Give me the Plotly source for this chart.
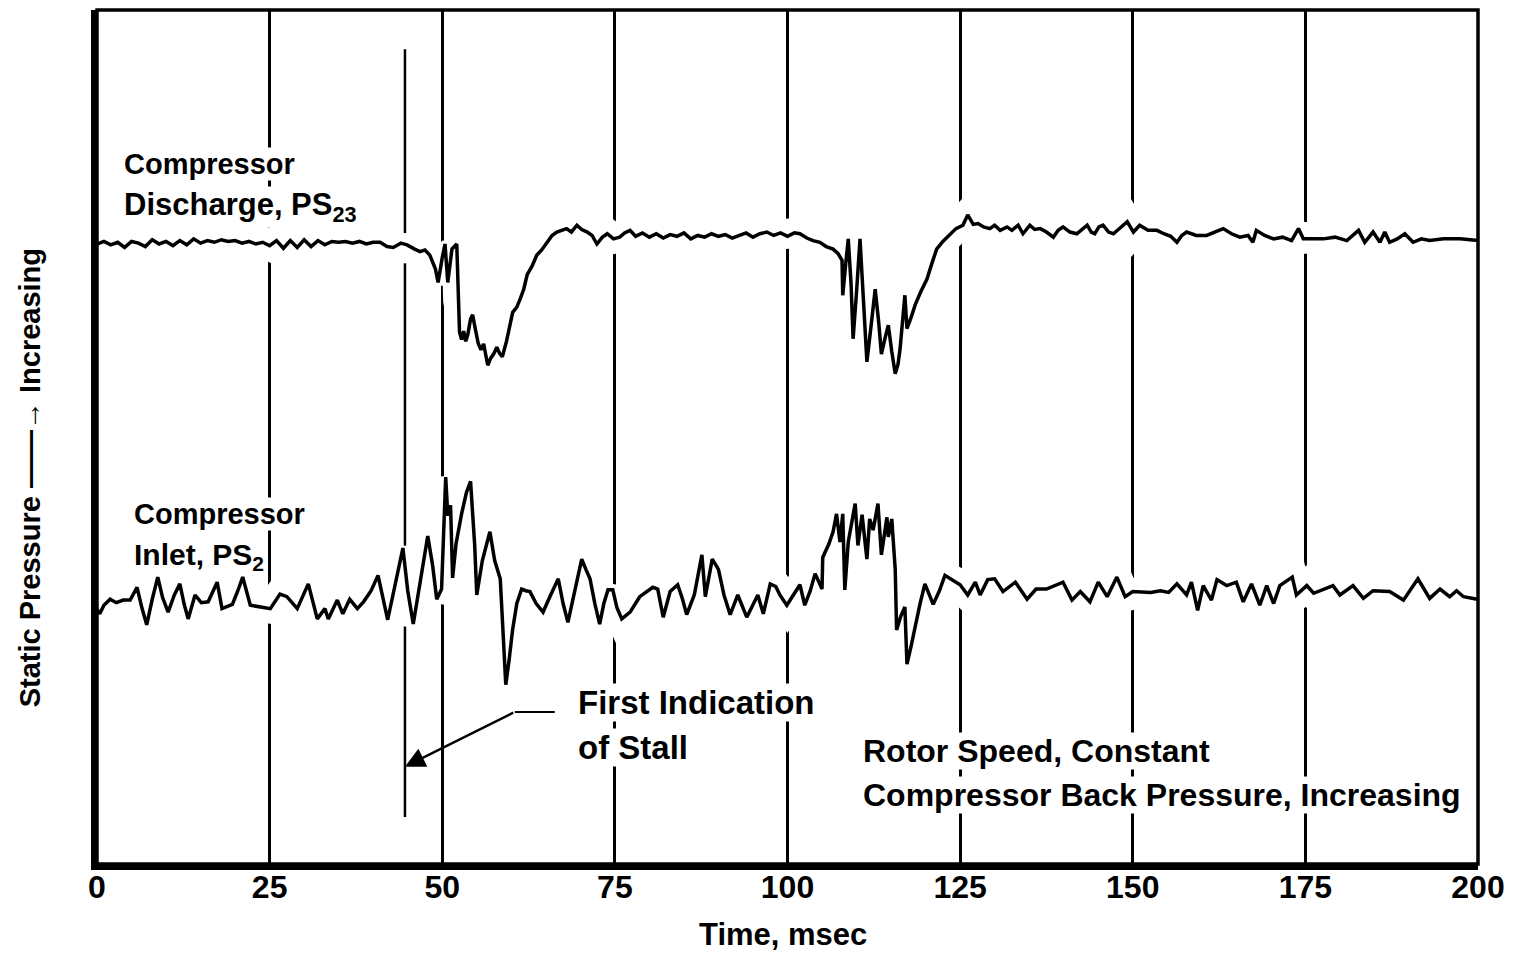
import plotly.graph_objects as go

# Time axis (msec) and relative static pressure (arbitrary units, 0-100 = plot height)
discharge_t = [0, 1, 2, 3, 4, 5, 6, 7, 8, 9, 10, 11, 12, 13, 14, 15, 16, 17, 18, 19, 20,
               21, 22, 23, 24, 25, 26, 27, 28, 29, 30, 31, 32, 33, 34, 35, 36, 37, 38, 39, 40,
               41.0, 42.0, 42.9, 44.0, 44.9, 46.0, 46.8, 47.5, 48.2, 49.0, 49.4, 50.0, 50.4, 50.8,
               51.4, 52.1, 52.3, 52.5, 52.8, 53.1, 53.4, 53.7, 54.1, 54.4, 54.8, 55.2, 55.6, 56.0,
               56.3, 56.6, 57.0, 57.5, 57.9, 58.3, 58.7, 59.3, 60.2, 60.8, 61.3, 61.8, 62.3, 63.0,
               63.7, 64.4, 65.2, 65.9, 66.6, 67.3, 68.0, 68.7, 69.5, 70.2, 71.0, 71.7, 72.4, 73.2,
               73.9, 74.8, 75.7, 76.4, 77.2, 78, 79, 80, 81, 82, 83, 84, 85, 86, 87, 88, 89, 90,
               91, 92, 93, 94, 95, 96, 97, 98, 99, 100, 101, 101.8, 102.8, 103.7, 104.7, 105.6,
               106.6, 107.3, 107.9, 108.0, 108.4, 108.8, 109.2, 109.5, 110.0, 110.5, 111.0, 111.5,
               112.1, 112.7, 113.2, 113.6, 114.1, 114.6, 115.1, 115.6, 116.0, 116.3, 117.0, 117.3,
               117.9, 118.5, 119.3, 120.2, 120.9, 121.6, 122.5, 123.5, 124.4, 125.4, 126.1, 126.9,
               127.6, 128.4, 129.3, 130.0, 130.8, 131.8, 132.5, 133.4, 134.1, 135.1, 135.8, 136.6,
               137.5, 138.5, 139.2, 139.9, 140.9, 141.9, 142.6, 143.4, 144.0, 144.5, 145.1, 145.7,
               146.5, 147.2, 148.2, 149.2, 150.1, 151.0, 152.2, 153.5, 154.5, 155.5, 156.4, 157.1,
               157.8, 159.2, 160.7, 161.9, 163.1, 164.3, 165.5, 166.7, 167.4, 167.9, 169.1, 170.4,
               171.7, 173.0, 174.0, 174.7, 176.1, 177.6, 179.3, 181.0, 182.7, 183.6, 184.8, 185.8,
               186.5, 187.2, 188.3, 189.4, 190.6, 191.8, 193.0, 195.0, 197.4, 200.0]
discharge_p = [72.6, 72.9, 72.5, 72.8, 72.2, 72.9, 72.7, 72.3, 73.1, 72.6, 72.9, 72.4, 73.0, 72.5,
               73.2, 72.7, 73.0, 72.8, 73.1, 72.9, 73.0, 72.7, 72.9, 72.6, 72.8, 72.4, 73.0, 72.1,
               73.0, 72.2, 73.1, 72.3, 73.0, 72.5, 72.9, 72.8, 72.9, 72.7, 72.9, 72.6, 72.8,
               72.8, 72.3, 72.2, 72.7, 72.5, 72.0, 71.7, 71.9, 71.3, 69.7, 68.1, 71.0, 72.6, 68.1,
               72.0, 72.6, 66.0, 62.3, 61.4, 62.4, 61.2, 62.0, 63.8, 64.3, 62.6, 61.0, 60.2, 60.9,
               59.6, 58.4, 59.2, 59.8, 60.5, 59.8, 59.4, 61.2, 64.6, 65.2, 66.2, 67.3, 69.0, 70.0,
               71.3, 71.9, 72.8, 73.6, 74.0, 74.2, 74.4, 74.0, 74.8, 74.3, 74.0, 73.6, 72.6, 73.4,
               73.8, 73.2, 73.4, 73.9, 74.2, 73.5, 73.9, 73.4, 73.8, 73.3, 73.7, 73.5, 73.9, 73.2,
               73.6, 73.4, 73.8, 73.5, 73.7, 73.3, 73.6, 73.9, 73.4, 73.8, 74.0, 73.6, 73.9, 73.5,
               73.9, 73.8, 73.3, 73.0, 72.8, 72.3, 72.0, 71.5, 70.7, 66.6, 70.0, 73.2, 68.0, 61.5,
               67.0, 73.2, 66.0, 58.8, 63.0, 67.3, 63.5, 59.7, 61.5, 63.1, 60.0, 57.4, 58.5, 60.3,
               66.6, 62.7, 64.0, 65.5, 67.0, 68.5, 70.3, 72.0, 72.9, 73.7, 74.4, 74.8, 76.0, 74.9,
               75.0, 74.6, 74.4, 74.8, 74.2, 74.6, 74.2, 74.8, 73.8, 74.8, 74.3, 74.4, 74.0, 73.4,
               74.2, 74.6, 74.0, 73.8, 74.3, 74.8, 74.0, 73.8, 74.6, 74.8, 74.0, 73.8, 74.5, 75.2,
               74.0, 74.8, 74.2, 74.2, 73.8, 73.5, 72.8, 73.6, 74.0, 73.6, 73.6, 74.0, 74.4, 73.8,
               73.4, 73.6, 72.8, 74.2, 73.6, 73.2, 73.4, 73.0, 74.4, 73.2, 73.2, 73.2, 73.4, 73.0,
               74.2, 72.8, 74.0, 72.8, 74.0, 72.8, 73.2, 73.8, 72.8, 73.2, 73.0, 73.2, 73.2, 73.0]

inlet_t = [0.0, 0.4, 1.0, 1.9, 2.8, 3.8, 4.8, 5.8, 6.5, 7.2, 8.0, 8.8, 9.5, 10.3, 11.2, 12.0,
           12.6, 13.2, 14.2, 15.1, 16.1, 17.4, 18.1, 19.6, 20.4, 21.1, 22.2, 23.6, 25.1, 26.5,
           27.5, 29.0, 30.6, 31.9, 33.0, 33.5, 34.8, 35.6, 36.6, 37.7, 38.6, 39.7, 40.7, 42.1,
           43.3, 44.3, 45.0, 45.8, 46.9, 47.9, 48.6, 49.2, 49.9, 50.5, 50.8, 51.2, 51.5, 52.0,
           52.8, 53.5, 54.1, 54.7, 55.0, 55.8, 56.9, 57.6, 58.4, 58.8, 59.2, 59.7, 60.2, 60.8,
           61.5, 62.1, 62.7, 63.6, 64.6, 65.7, 66.8, 67.5, 68.2, 69.2, 70.2, 70.8, 71.4, 72.1,
           72.8, 73.4, 74.0, 74.7, 75.3, 76.0, 77.2, 78.6, 79.5, 80.5, 81.2, 82.0, 83.0, 84.1,
           84.8, 85.4, 86.5, 87.6, 88.1, 89.1, 90.0, 90.8, 91.7, 92.8, 94.1, 95.0, 95.7, 96.5,
           97.5, 98.3, 98.9, 99.9, 100.8, 101.8, 102.5, 103.3, 104.0, 105.0, 105.1, 106.0, 106.6,
           107.1, 107.6, 108.0, 108.3, 108.8, 109.8, 110.2, 110.8, 111.5, 111.9, 112.4, 113.1,
           113.6, 114.4, 114.6, 115.1, 115.4, 115.6, 115.8, 116.4, 117.0, 117.3, 117.9, 118.5,
           119.2, 119.9, 120.5, 121.1, 122.0, 122.8, 124.0, 125.0, 126.1, 127.2, 127.9, 129.0,
           130.0, 131.2, 133.0, 134.7, 136.0, 137.5, 139.9, 141.2, 142.4, 143.8, 145.0, 146.3,
           147.7, 148.9, 150.0, 151.3, 152.6, 154.0, 155.2, 156.4, 157.8, 158.5, 159.4, 160.2,
           161.4, 162.2, 163.6, 165.0, 166.0, 167.2, 168.4, 169.4, 170.4, 171.3, 173.1, 173.7,
           175.2, 176.2, 179.0, 180.0, 181.9, 183.4, 184.8, 187.2, 189.2, 191.3, 193.0, 194.5,
           195.9, 196.9, 197.9, 199.9]
inlet_p = [29.8, 29.3, 30.3, 31.0, 30.6, 30.9, 30.9, 32.4, 30.0, 28.0, 31.0, 33.6, 31.2, 29.5,
           31.5, 32.8, 30.5, 28.7, 31.5, 30.6, 30.7, 33.0, 29.9, 30.4, 32.0, 33.6, 30.3, 30.1,
           29.9, 31.6, 31.3, 29.9, 32.8, 28.7, 29.9, 28.7, 30.9, 29.3, 31.0, 29.9, 30.7, 32.0,
           33.8, 28.6, 33.0, 37.0, 32.0, 28.1, 33.5, 38.4, 35.0, 31.0, 32.2, 45.3, 40.8, 42.0,
           33.5, 37.5, 41.0, 43.5, 44.8, 37.3, 31.5, 35.5, 38.9, 35.5, 33.4, 27.0, 21.0, 24.0,
           27.5, 30.5, 32.2, 32.0, 31.9, 30.5, 29.5, 31.5, 33.4, 30.5, 28.3, 32.0, 35.7, 34.5,
           33.4, 30.5, 28.1, 30.5, 32.1, 32.1, 30.0, 28.7, 29.5, 31.3, 31.8, 32.4, 32.2, 28.9,
           31.9, 32.7, 31.0, 29.2, 31.5, 36.2, 31.3, 35.7, 34.5, 31.5, 29.2, 31.5, 28.9, 30.5,
           31.5, 29.3, 32.8, 32.5, 31.5, 30.3, 31.5, 32.7, 30.3, 32.0, 34.0, 32.2, 35.9, 37.5,
           38.9, 41.0, 37.7, 41.0, 32.1, 37.7, 42.2, 37.3, 40.9, 35.7, 40.4, 39.1, 42.2, 36.2,
           40.6, 38.3, 40.4, 36.0, 34.5, 27.4, 29.0, 30.1, 23.4, 25.5, 28.0, 30.5, 32.8, 31.5,
           30.4, 32.0, 33.8, 33.2, 32.7, 31.5, 33.0, 31.5, 33.3, 33.4, 31.9, 33.0, 31.0, 32.2,
           32.2, 33.0, 30.9, 31.9, 30.7, 33.0, 31.3, 33.6, 31.3, 31.9, 31.9, 31.8, 32.0, 31.8,
           32.8, 31.5, 33.0, 29.7, 32.6, 30.9, 33.3, 32.6, 33.0, 30.7, 32.8, 30.3, 32.6, 30.5,
           32.6, 33.6, 31.5, 32.6, 31.7, 32.6, 31.5, 32.6, 31.1, 32.0, 31.9, 30.9, 33.4, 31.1,
           32.2, 31.3, 32.0, 31.3, 31.0]

x_ticks = [0, 25, 50, 75, 100, 125, 150, 175, 200]
stall_time = 44.6

FONT = "Liberation Sans, Arial, sans-serif"

fig = go.Figure()
for t, p in [(discharge_t, discharge_p), (inlet_t, inlet_p)]:
    fig.add_trace(go.Scatter(x=t, y=p, mode="lines", line=dict(color="white", width=30),
                             hoverinfo="skip", showlegend=False))
for t, p, name in [(discharge_t, discharge_p, "Compressor Discharge, PS23"),
                   (inlet_t, inlet_p, "Compressor Inlet, PS2")]:
    fig.add_trace(go.Scatter(x=t, y=p, mode="lines", name=name,
                             line=dict(color="black", width=3.5), showlegend=False))

# first indication of stall marker
fig.add_shape(type="line", x0=stall_time, x1=stall_time, y0=5.5, y1=95.4,
              line=dict(color="black", width=2.5), layer="between")
fig.add_shape(type="line", x0=60.5, x1=66.3, y0=17.8, y1=17.8,
              line=dict(color="black", width=2))
fig.add_annotation(x=stall_time, y=11.4, ax=60.5, ay=17.8, axref="x", ayref="y",
                   showarrow=True, arrowhead=2, arrowsize=1.6, arrowwidth=2.5,
                   arrowcolor="black", text="")
# frame (top/right thinner)
fig.add_shape(type="rect", xref="paper", yref="paper", x0=0, x1=1, y0=0, y1=1,
              line=dict(color="black", width=3.5), layer="above")

labels = [
    ("Compressor", 3.8, 82.0, 29),
    ("Discharge, PS<sub>23</sub>", 3.8, 76.9, 31),
    ("Compressor", 5.2, 41.0, 29),
    ("Inlet, PS<sub>2</sub>", 5.2, 36.0, 30),
    ("First Indication", 69.5, 18.9, 33),
    ("of Stall", 69.5, 13.7, 33),
    ("Rotor Speed, Constant", 110.8, 13.2, 32),
    ("Compressor Back Pressure, Increasing", 110.8, 8.1, 32),
]
for txt, x, y, sz in labels:
    fig.add_annotation(x=x, y=y, text=txt, showarrow=False, xanchor="left", yanchor="middle",
                       font=dict(family=FONT, size=sz, color="black", weight="bold"),
                       bgcolor="white", borderpad=0)

fig.add_annotation(xref="paper", yref="paper", x=-0.0483, y=0.452, xanchor="center",
                   yanchor="middle",
                   text="Static Pressure \u2014\u2014\u2192 Increasing", textangle=-90,
                   showarrow=False,
                   font=dict(family=FONT, size=29, color="black", weight="bold"))
fig.add_annotation(xref="paper", yref="paper", x=0.497, y=-0.083, text="Time, msec",
                   showarrow=False, yanchor="middle", xanchor="center",
                   font=dict(family=FONT, size=31, color="black", weight="bold"))

fig.update_xaxes(range=[0, 200], tickvals=x_ticks, ticktext=[str(v) for v in x_ticks],
                 showgrid=True, gridcolor="black", gridwidth=2.5, zeroline=False,
                 showline=True, linecolor="black", linewidth=6, ticks="",
                 ticklabelstandoff=-10,
                 tickfont=dict(family=FONT, size=32, color="black", weight="bold"))
fig.update_yaxes(range=[0, 100], showgrid=False, zeroline=False, showticklabels=False,
                 showline=True, linecolor="black", linewidth=6, ticks="")
fig.update_layout(width=1509, height=956, plot_bgcolor="white", paper_bgcolor="white",
                  margin=dict(l=89, r=39, t=2, b=100), showlegend=False)

fig.write_html("out.html")
